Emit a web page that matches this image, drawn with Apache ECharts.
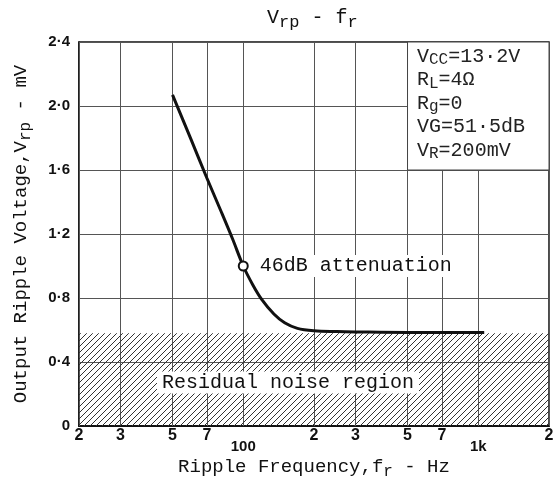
<!DOCTYPE html>
<html><head><meta charset="utf-8">
<script src="https://cdn.jsdelivr.net/npm/echarts@6/dist/echarts.min.js"></script>
<style>html,body{margin:0;padding:0;background:#fff}#c{width:556px;height:481px}</style>
</head><body><div id="c"></div>
<script>
// ---- data ----
const freq = [50, 60, 70, 80, 90, 100, 110, 120, 135, 150, 170, 200, 250, 300, 500, 700, 1000, 1060];
const vrp  = [2.07, 1.79, 1.55, 1.35, 1.17, 1.00, 0.88, 0.79, 0.70, 0.645, 0.61, 0.595, 0.59, 0.588, 0.585, 0.585, 0.585, 0.585];
const markFreq = 100;
const markText = '46dB attenuation';
const tickValues = [20, 30, 50, 70, 100, 200, 300, 500, 700, 1000, 2000];
const tickLabels = ['2', '3', '5', '7', '100', '2', '3', '5', '7', '1k', '2'];
const lowTicks = ['100', '1k'];
const yMin = 0, yMax = 2.4, yStep = 0.4;
const noiseLevel = 0.58;
const noiseText = 'Residual noise region';
const boxFreq = [500, 2000];
const boxV = [1.6, 2.4];
const paramLines = ['V{s|CC}=13·2V', 'R{s|L}=4Ω', 'R{s|g}=0', 'VG=51·5dB', 'V{s|R}=200mV'];
const titleText = 'V{s|rp} - f{s|r}';
const xName = 'Ripple Frequency,f{s|r} - Hz';
const yName = 'Output Ripple Voltage,V{s|rp} - mV';

// ---- hatch pattern ----
const pc = document.createElement('canvas');
pc.width = 6; pc.height = 6;
const g = pc.getContext('2d');
g.strokeStyle = '#333'; g.lineWidth = 1;
[[-1, 7, 7, -1], [5, 7, 7, 5], [-1, 1, 1, -1]].forEach(function (l) {
  g.beginPath(); g.moveTo(l[0], l[1]); g.lineTo(l[2], l[3]); g.stroke();
});

const mono = "'Liberation Mono', 'DejaVu Sans Mono', monospace";
const tickFont = "'Liberation Sans Narrow', 'Liberation Sans', Arial, sans-serif";
const subStyle = function (size) {
  return { fontFamily: mono, fontSize: size, lineHeight: 12, verticalAlign: 'bottom', color: '#111' };
};

const curveData = freq.map(function (f, i) {
  const item = { value: [f, vrp[i]] };
  if (f === markFreq) {
    item.symbol = 'emptyCircle';
    item.symbolSize = 9;
    item.itemStyle = { color: '#111', borderColor: '#111', borderWidth: 1.5 };
    item.label = {
      show: true, position: 'right', distance: 8, formatter: markText,
      fontFamily: mono, fontSize: 20, color: '#111', backgroundColor: '#fff', padding: [1, 3]
    };
  }
  return item;
});

const chart = echarts.init(document.getElementById('c'));
chart.setOption({
  animation: false,
  backgroundColor: '#fff',
  title: {
    text: titleText, left: 262, top: 0,
    textStyle: { fontFamily: mono, fontSize: 20, lineHeight: 26, fontWeight: 'normal', color: '#111',
      rich: { s: subStyle(17) } }
  },
  grid: { left: 79, right: 7, top: 42, bottom: 55, show: true, borderColor: '#111', borderWidth: 1.5,
    containLabel: false, outerBoundsMode: 'none' },
  xAxis: {
    type: 'log', logBase: 10, min: 20, max: 2000,
    name: xName, nameLocation: 'middle', nameGap: 28,
    nameTextStyle: { fontFamily: mono, fontSize: 19, lineHeight: 26, color: '#111', rich: { s: subStyle(16) } },
    axisLine: { show: true, lineStyle: { color: '#111', width: 2 } },
    axisTick: { show: false }, axisLabel: { show: false }, splitLine: { show: false }, minorSplitLine: { show: false }
  },
  yAxis: {
    type: 'value', min: yMin, max: yMax, interval: yStep,
    name: yName, nameLocation: 'middle', nameGap: 45,
    nameTextStyle: { fontFamily: mono, fontSize: 19, lineHeight: 26, color: '#111', rich: { s: subStyle(16) } },
    axisLine: { show: true, lineStyle: { color: '#111', width: 1.5 } },
    axisTick: { show: false },
    axisLabel: { margin: 9, fontFamily: tickFont, fontWeight: 'bold', fontSize: 15, color: '#111',
      formatter: function (v) { return v === 0 ? '0' : v.toFixed(1).replace('.', '·'); } },
    splitLine: { show: true, lineStyle: { color: '#555', width: 1 } }
  },
  series: [{
    type: 'line', z: 3,
    data: curveData,
    symbol: 'none', showSymbol: true, smooth: 0.35,
    lineStyle: { color: '#111', width: 3 },
    itemStyle: { color: '#111' },
    markLine: {
      z: 1, silent: true, symbol: 'none',
      lineStyle: { color: '#555', width: 1, type: 'solid' },
      label: {
        show: true, position: 'start', distance: 2,
        fontFamily: tickFont, fontWeight: 'bold', fontSize: 16, color: '#111',
        formatter: function (p) {
          const t = tickLabels[tickValues.indexOf(p.value)];
          return lowTicks.indexOf(t) >= 0 ? '{b|' + t + '}' : t;
        },
        rich: { b: { fontFamily: tickFont, fontWeight: 'bold', fontSize: 15, color: '#111', padding: [11, 0, 0, 0] } }
      },
      data: tickValues.map(function (v) { return { xAxis: v }; })
    },
    markArea: {
      z: 2, silent: true,
      data: [
        [{ coord: [tickValues[0], yMin],
           itemStyle: { color: { image: pc, repeat: 'repeat' }, borderWidth: 0 },
           label: { show: true, position: 'inside', offset: [-26, 3], formatter: noiseText,
             fontFamily: mono, fontSize: 20, color: '#111', backgroundColor: '#fff', padding: [1, 5] } },
         { coord: [tickValues[tickValues.length - 1], noiseLevel] }],
        [{ coord: [boxFreq[0], boxV[0]],
           itemStyle: { color: '#fff', borderColor: '#444', borderWidth: 1, opacity: 1 },
           label: { show: true, position: 'insideTopLeft', distance: 0, padding: [3, 0, 0, 10],
             formatter: paramLines.join('\n'),
             fontFamily: mono, fontSize: 20, lineHeight: 23.5, color: '#222',
             rich: { s: { fontFamily: mono, fontSize: 16, lineHeight: 12, verticalAlign: 'bottom', color: '#222' } } } },
         { coord: [boxFreq[1], boxV[1]] }]
      ]
    }
  }]
});
</script>
</body></html>
